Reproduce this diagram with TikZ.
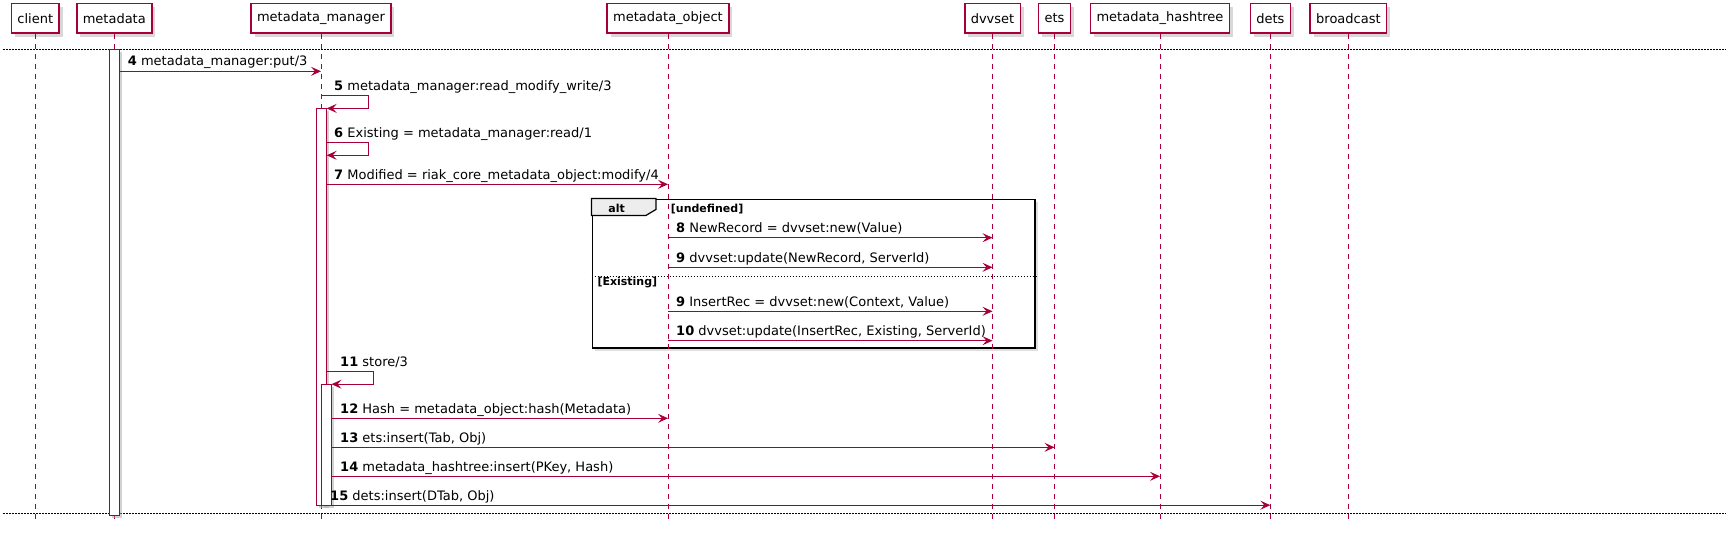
\documentclass[tikz,border=0pt]{standalone}
\usepackage{fontspec}
\setmainfont{DejaVu Sans}
\usetikzlibrary{arrows.meta,shadows}
\definecolor{umlred}{HTML}{A80036}
\tikzset{>={Stealth[length=10pt,width=9pt,inset=4pt]}}
\tikzset{
  actor/.style={draw=umlred,line width=1.5pt,fill=white,minimum height=29.8pt,
    inner xsep=6pt,inner ysep=0pt,font=\fontsize{13}{15}\selectfont,
    drop shadow={shadow xshift=3.5pt,shadow yshift=-3.5pt,fill=black!30}},
  life/.style={draw=umlred,dash pattern=on 5pt off 5pt,line width=0.9pt},
  activ/.style={draw=umlred,fill=white,line width=1pt,inner sep=0pt,minimum width=10pt,
    drop shadow={shadow xshift=2.5pt,shadow yshift=-2.5pt,fill=black!35}},
  msg/.style={->,draw=umlred,line width=1pt},
  msgtext/.style={anchor=base west,inner sep=0pt,font=\fontsize{13}{15}\selectfont},
  guard/.style={anchor=base west,inner sep=0pt,font=\fontsize{11}{13}\selectfont\bfseries},
  sep/.style={draw=black,dash pattern=on 1.5pt off 1.5pt,line width=0.8pt},
  altframe/.style={draw=black,line width=1.6pt,fill=white,inner sep=0pt,
    drop shadow={shadow xshift=3pt,shadow yshift=-3pt,fill=black!25}}
}

\begin{document}
\begin{tikzpicture}[x=1pt,y=-1pt]
\useasboundingbox (0,0) rectangle (1736,535);
% alt frame (drawn first, lifelines cross it)
\node[altframe,minimum width=442.7pt,minimum height=148.7pt] (alt) at (813.65,273.65) {};
% participants
\node[actor] (client) at (35.3,18.3) {client};
\node[actor] (metadata) at (114.3,18.3) {metadata};
\node[actor] (manager) at (321,18.3) {metadata\_manager};
\node[actor] (object) at (668,18.3) {metadata\_object};
\node[actor] (dvvset) at (992.5,18.3) {dvvset};
\node[actor] (ets) at (1054.5,18.3) {ets};
\node[actor] (hashtree) at (1160,18.3) {metadata\_hashtree};
\node[actor] (dets) at (1270.3,18.3) {dets};
\node[actor] (broadcast) at (1348.4,18.3) {broadcast};
% lifelines
\draw[life] (client.south) -- (client.south |- 0,523);
\draw[life] (metadata.south) -- (metadata.south |- 0,523);
\draw[life] (manager.south) -- (manager.south |- 0,523);
\draw[life] (object.south) -- (object.south |- 0,523);
\draw[life] (dvvset.south) -- (dvvset.south |- 0,523);
\draw[life] (ets.south) -- (ets.south |- 0,523);
\draw[life] (hashtree.south) -- (hashtree.south |- 0,523);
\draw[life] (dets.south) -- (dets.south |- 0,523);
\draw[life] (broadcast.south) -- (broadcast.south |- 0,523);
% separators
\draw[sep] (3,49.5) -- (1726,49.5);
\draw[sep] (3,513) -- (1726,513);
% activations
\node[activ,minimum height=465.7pt] (barA) at (114.3,282.35) {};
\node[activ,minimum height=396.5pt] (barB) at (321.2,306.75) {};
\node[activ,minimum height=120.8pt] (barC) at (326,444.6) {};
% alt tab and guards
\draw[line width=1.2pt,fill=black!7] (alt.north west) -- ++(64.4,0) -- ++(0,11) -- ++(-10,6)
  -- ([yshift=-17pt]alt.north west) -- cycle;
\node[guard,anchor=base] (alttag) at (616.7,212.2) {alt};
\node[guard] (undef) at (670.7,212.2) {[undefined]};
\draw[draw=black,dash pattern=on 1.5pt off 1.5pt,line width=0.8pt] (alt.west |- 0,276.3) -- (alt.east |- 0,276.3);
\node[guard] (exist) at (597.3,285.6) {[Existing]};
% messages
\draw[msg] (barA.east |- 0,71.3) -- (manager |- 0,71.3);
\node[msgtext] (l4) at (127.7,66) {\textbf{4} metadata\_manager:put/3};
\draw[msg] (manager |- 0,95.3) -- (368.3,95.3) -- (368.3,108.4) -- (barB.east |- 0,108.4);
\node[msgtext] (l5) at (334,90) {\textbf{5} metadata\_manager:read\_modify\_write/3};
\draw[msg] (barB.east |- 0,142.5) -- (368.3,142.5) -- (368.3,155.3) -- (barB.east |- 0,155.3);
\node[msgtext] (l6) at (334,137) {\textbf{6} Existing = metadata\_manager:read/1};
\draw[msg] (barB.east |- 0,184.3) -- (object |- 0,184.3);
\node[msgtext] (l7) at (334,179) {\textbf{7} Modified = riak\_core\_metadata\_object:modify/4};
\draw[msg] (object |- 0,237.7) -- (dvvset |- 0,237.7);
\node[msgtext] (l8) at (676,232.5) {\textbf{8} NewRecord = dvvset:new(Value)};
\draw[msg] (object |- 0,267.3) -- (dvvset |- 0,267.3);
\node[msgtext] (l9) at (676,262) {\textbf{9} dvvset:update(NewRecord, ServerId)};
\draw[msg] (object |- 0,311.3) -- (dvvset |- 0,311.3);
\node[msgtext] (l9b) at (676,306) {\textbf{9} InsertRec = dvvset:new(Context, Value)};
\draw[msg] (object |- 0,340.7) -- (dvvset |- 0,340.7);
\node[msgtext] (l10) at (676,335.5) {\textbf{10} dvvset:update(InsertRec, Existing, ServerId)};
\draw[msg] (barB.east |- 0,371.2) -- (373.3,371.2) -- (373.3,384.2) -- (barC.east |- 0,384.2);
\node[msgtext] (l11) at (340,366) {\textbf{11} store/3};
\draw[msg] (barC.east |- 0,418.3) -- (object |- 0,418.3);
\node[msgtext] (l12) at (340,413) {\textbf{12} Hash = metadata\_object:hash(Metadata)};
\draw[msg] (barC.east |- 0,447.3) -- (ets |- 0,447.3);
\node[msgtext] (l13) at (340,442) {\textbf{13} ets:insert(Tab, Obj)};
\draw[msg] (barC.east |- 0,476.3) -- (hashtree |- 0,476.3);
\node[msgtext] (l14) at (340,471) {\textbf{14} metadata\_hashtree:insert(PKey, Hash)};
\draw[msg] (barC.east |- 0,505.2) -- (dets |- 0,505.2);
\node[msgtext] (l15) at (330,500) {\textbf{15} dets:insert(DTab, Obj)};
\end{tikzpicture}
\end{document}
